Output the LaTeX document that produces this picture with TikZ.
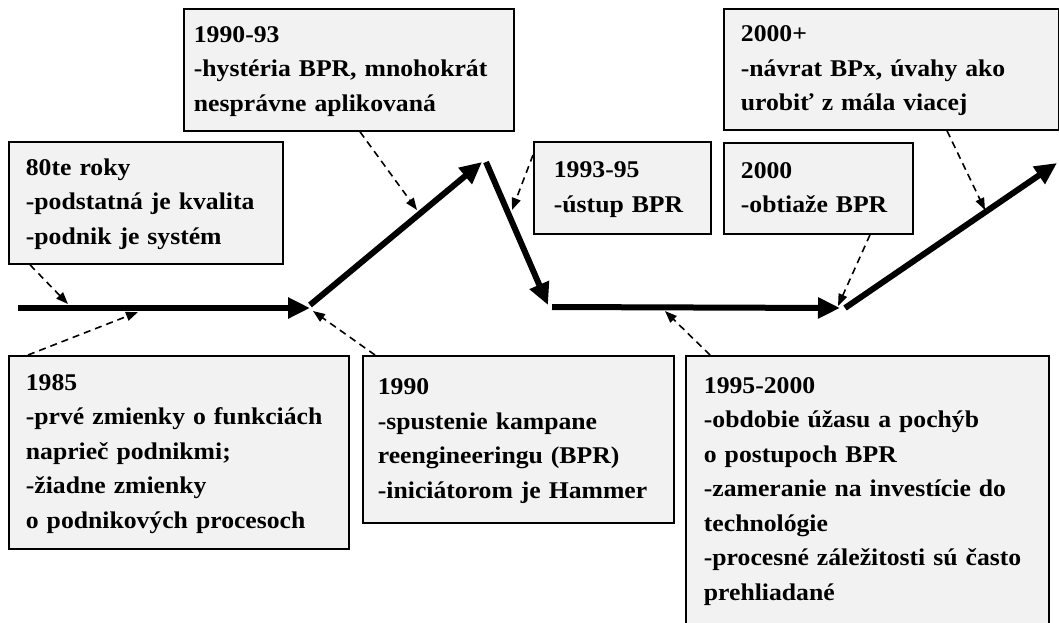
\documentclass[tikz,border=0pt]{standalone}
\usepackage{fontspec}
\setmainfont{Liberation Serif}[FakeStretch=1.07]
\usetikzlibrary{arrows.meta,calc}
\definecolor{boxfill}{RGB}{242,242,242}
\newcommand\boxlines[1]{\begin{tabular}{@{}l@{}}#1\end{tabular}}
\tikzset{
  box/.style={draw=black, line width=1.8pt, fill=boxfill, anchor=north west, align=left,
    inner ysep=0pt, font=\fontsize{24}{34.5}\selectfont\bfseries},
  thickarrow/.style={line width=6pt, -{Triangle[length=22pt,width=20pt]}},
  notearrow/.style={line width=1.6pt, dash pattern=on 7pt off 5pt, -{Triangle[length=12pt,width=9pt]}},
}
\begin{document}
\begin{tikzpicture}[x=1pt,y=-1pt]
\useasboundingbox (0,0) rectangle (1059,622);
% boxes
\node[box, inner xsep=17pt, text width=240pt, minimum height=122pt] (A) at (8,141)
  {\boxlines{80te roky\\-podstatná je kvalita\\-podnik je systém}};
\node[box, inner xsep=10pt, text width=310pt, minimum height=122pt] (B) at (183,8)
  {\boxlines{1990-93\\-hystéria BPR, mnohokrát\\nesprávne aplikovaná}};
\node[box, inner xsep=20pt, text width=137pt, minimum height=92pt] (C) at (533,141)
  {\boxlines{1993-95\\-ústup BPR}};
\node[box, inner xsep=17pt, text width=301pt, minimum height=121pt] (D) at (723,8)
  {\boxlines{2000+\\-návrat BPx, úvahy ako\\urobiť z mála viacej}};
\node[box, inner xsep=17pt, text width=155pt, minimum height=91pt] (E) at (723,142)
  {\boxlines{2000\\-obtiaže BPR}};
\node[box, inner xsep=17pt, text width=306pt, minimum height=193pt] (F) at (8,355)
  {\boxlines{1985\\-prvé zmienky o funkciách\\naprieč podnikmi;\\-žiadne zmienky\\o podnikových procesoch}};
\node[box, inner xsep=15pt, text width=281pt, minimum height=167pt] (G) at (362,355)
  {\boxlines{1990\\-spustenie kampane\\reengineeringu (BPR)\\-iniciátorom je Hammer}};
\node[box, inner xsep=18pt, text width=327pt, minimum height=268pt] (H) at (685,355)
  {\boxlines{1995-2000\\-obdobie úžasu a pochýb\\o postupoch BPR\\-zameranie na investície do\\technológie\\-procesné záležitosti sú často\\prehliadané}};
% main line points
\coordinate (p0) at (18,308);
\coordinate (p1) at (310,308);
\coordinate (p2) at (310,305);
\coordinate (p3) at (482,162);
\coordinate (p4) at (486,162);
\coordinate (p5) at (548,305);
\coordinate (p6) at (552,307);
\coordinate (p7) at (840,308);
\coordinate (p8) at (845,308);
\coordinate (p9) at (1057,163);
\draw[thickarrow] (p0) -- (p1);
\draw[thickarrow] (p2) -- (p3);
\draw[thickarrow] (p4) -- (p5);
\draw[thickarrow] (p6) -- (p7);
\draw[thickarrow] (p8) -- (p9);
% dashed pointer tips
\coordinate (tA) at (68,304);
\coordinate (tF) at (138,312);
\coordinate (tG) at (313,311);
\coordinate (tB) at (417,210);
\coordinate (tC) at (512,210);
\coordinate (tH) at (665,311);
\coordinate (tE) at (838,306);
\coordinate (tD) at (985,210);
\draw[notearrow] ([xshift=22pt]A.south west) -- (tA);
\draw[notearrow] ([xshift=20pt]F.north west) -- (tF);
\draw[notearrow] ([xshift=13pt]G.north west) -- (tG);
\draw[notearrow] ([xshift=177pt]B.south west) -- (tB);
\draw[notearrow] ([yshift=-14pt]C.north west) -- (tC);
\draw[notearrow] ([xshift=25pt]H.north west) -- (tH);
\draw[notearrow] ([xshift=147pt]E.south west) -- (tE);
\draw[notearrow] ([xshift=224pt]D.south west) -- (tD);
\end{tikzpicture}
\end{document}
